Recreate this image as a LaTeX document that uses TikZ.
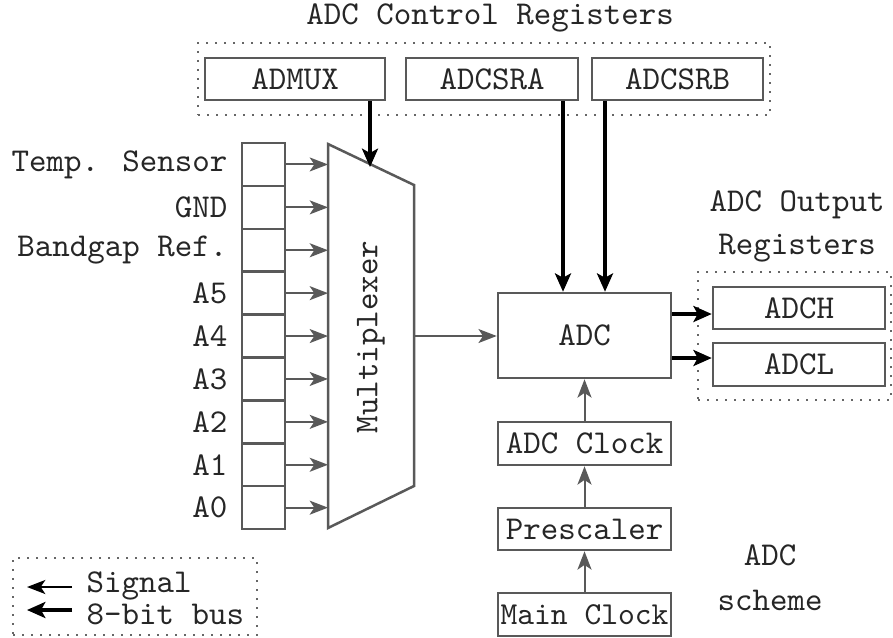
\documentclass[tikz,border=0pt]{standalone}
\usetikzlibrary{arrows.meta,fit,calc}
\begin{document}
\begin{tikzpicture}[x=0.3pt,y=-0.3pt, font=\ttfamily, text=black!85,
 box/.style={draw=black!65, line width=0.75pt, inner sep=0pt},
 sig/.style={draw=black!65, line width=0.6pt, -{Stealth[length=5.5pt,width=4.2pt,inset=1.4pt]}},
 bus/.style={draw=black, line width=1.3pt, -{Stealth[length=5.5pt,width=4.8pt,inset=1.3pt]}},
 grp/.style={draw=black!60, dotted, line width=0.7pt, inner sep=0pt},
 lbl/.style={inner sep=0pt}]
\useasboundingbox (0,0) rectangle (893,637);

% control registers
\node (title) at (490,18) {ADC Control Registers};
\node[box, fit={(205,58)(385,100)}] (admux) {};
\node[lbl] at (admux.center) {ADMUX};
\node[box, fit={(406,58)(578,100)}] (adcsra) {};
\node[lbl] at (adcsra.center) {ADCSRA};
\node[box, fit={(592,58)(763,100)}] (adcsrb) {};
\node[lbl] at (adcsrb.center) {ADCSRB};
\node[grp, fit={(198,43)(770,115)}] (ctrl) {};

% multiplexer
\coordinate (m1) at (328,144);
\coordinate (m2) at (414,185);
\coordinate (m3) at (414,486);
\coordinate (m4) at (328,528);
\draw[draw=black!65, line width=0.75pt] (m1)--(m2)--(m3)--(m4)--cycle;
\node[rotate=90] (mtext) at (371,337) {Multiplexer};
\coordinate (mxl) at (328,0);
\coordinate (mout) at (414,336);
\coordinate (mtop) at (370,167);

% input register column
\foreach \lab [count=\i from 0] in {Temp. Sensor, GND, Bandgap Ref., A5, A4, A3, A2, A1, A0} {
  \pgfmathsetmacro\ta{143+42.9*\i}
  \pgfmathsetmacro\tb{143+42.9*(\i+1)}
  \node[box, fit={(242,\ta)(285,\tb)}] (r\i) {};
  \node[anchor=east, inner sep=0pt] (l\i) at (228,{(\ta+\tb)/2}) {\lab};
  \draw[sig] (r\i.east) -- (r\i.east -| mxl);
}

% ADC
\node[box, fit={(498,293)(671,378)}] (adc) {};
\node[lbl] at (adc.center) {ADC};
\draw[sig] (mout) -- (mout -| adc.west);
\draw[bus] (admux.south -| mtop) -- (mtop);
\coordinate (a1) at (563,0);
\coordinate (a2) at (605,0);
\draw[bus] (adcsra.south -| a1) -- (adc.north -| a1);
\draw[bus] (adcsrb.south -| a2) -- (adc.north -| a2);

% output registers
\node (ot1) at (797,205) {ADC Output};
\node (ot2) at (797,248) {Registers};
\node[box, fit={(713,287)(885,329)}] (adch) {};
\node[lbl] at (adch.center) {ADCH};
\node[box, fit={(713,343)(885,386)}] (adcl) {};
\node[lbl] at (adcl.center) {ADCL};
\node[grp, fit={(698,272)(891,400)}] (outg) {};
\coordinate (o1) at (0,314);
\coordinate (o2) at (0,358);
\draw[bus] (adc.east |- o1) -- (adch.west |- o1);
\draw[bus] (adc.east |- o2) -- (adcl.west |- o2);

% clock chain
\node[box, fit={(498,422)(671,465)}] (clk) {};
\node[lbl] at (clk.center) {ADC Clock};
\node[box, fit={(498,508)(671,550)}] (pre) {};
\node[lbl] at (pre.center) {Prescaler};
\node[box, fit={(498,593)(671,636)}] (mainclk) {};
\node[lbl, font=\ttfamily\fontsize{9.6}{11}\selectfont] at (mainclk.center) {Main Clock};
\draw[sig] (clk.north) -- (adc.south);
\draw[sig] (pre.north) -- (clk.south);
\draw[sig] (mainclk.north) -- (pre.south);

\node (sc1) at (770,555) {ADC};
\node (sc2) at (770,600) {scheme};

% legend
\node[grp, fit={(13,558)(257,635)}] (leg) {};
\coordinate (s1) at (72,587);
\coordinate (s2) at (27,587);
\coordinate (b1) at (72,610);
\coordinate (b2) at (27,610);
\draw[sig, draw=black] (s1) -- (s2);
\draw[bus] (b1) -- (b2);
\node[anchor=west, inner sep=0pt, align=left, font=\ttfamily\fontsize{10}{6.9}\selectfont] (ltxt) at (86,598.5) {Signal\\8-bit bus};
\end{tikzpicture}
\end{document}
